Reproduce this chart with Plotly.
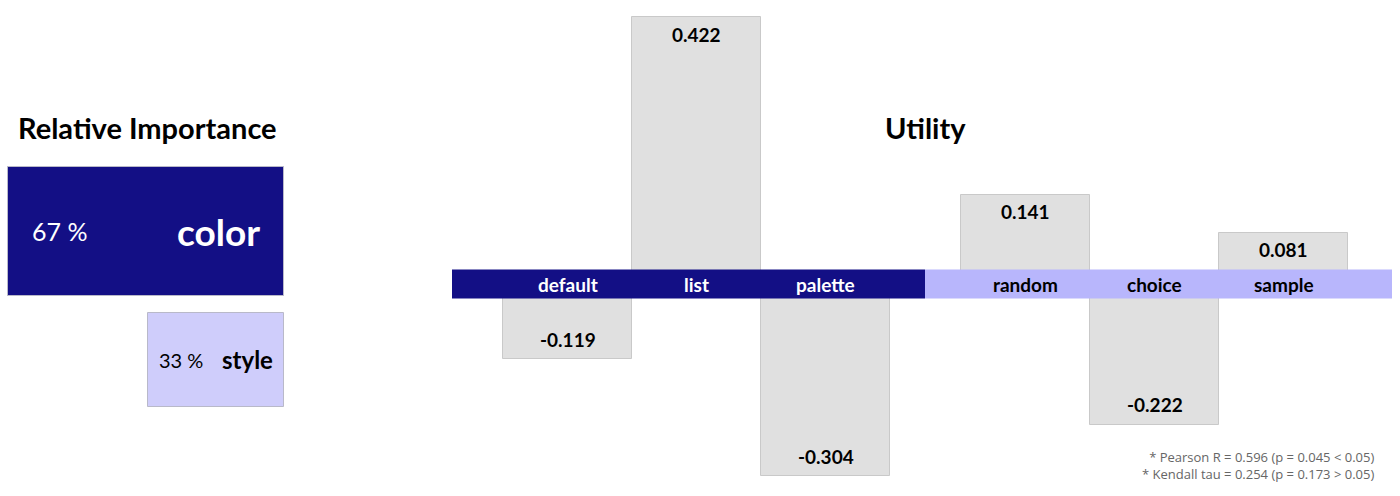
import plotly.graph_objects as go

# Relative importance of the two attributes (percent).
importance_names = ["color", "style"]
importance_pct = [67, 33]

# Utility of each level, split into the two attribute groups.
color_levels = ["default", "list", "palette"]
color_utility = [-0.119, 0.422, -0.304]
style_levels = ["random", "choice", "sample"]
style_utility = [0.141, -0.222, 0.081]

footnotes = ["* Pearson R = 0.596 (p = 0.045 < 0.05)",
             "* Kendall tau = 0.254 (p = 0.173 > 0.05)"]

DARK = "#130f85"
LIGHT_BAND = "#b8b6fc"
LIGHT_BOX = "#cfcdfb"
GRAY = "#e0e0e0"
FONT = "Lato"

fig = go.Figure()

# Left panel: relative importance as right-aligned horizontal bars.
fig.add_trace(go.Bar(
    x=importance_pct, y=importance_names, orientation="h",
    width=[1.0, 0.73],
    marker=dict(color=[DARK, LIGHT_BOX], line=dict(color="#b9b9c9", width=1)),
    xaxis="x", yaxis="y", hoverinfo="skip", showlegend=False))

# Utility panels.
for levels, values, xa, ya in [(color_levels, color_utility, "x2", "y2"),
                               (style_levels, style_utility, "x3", "y3")]:
    fig.add_trace(go.Bar(
        x=levels, y=values, width=1,
        marker=dict(color=GRAY, line=dict(color="#c9c9c9", width=1)),
        xaxis=xa, yaxis=ya, hoverinfo="skip", showlegend=False))

annotations = []

# Importance labels.
pct_shift = [22, 9]
pct_size = [25, 20]
pct_color = ["white", "black"]
name_shift = [-22, -9]
name_size = [37, 24]
for i, (name, pct) in enumerate(zip(importance_names, importance_pct)):
    annotations.append(dict(
        x=pct, y=name, xref="x", yref="y", xanchor="left", xshift=pct_shift[i],
        text=f"{pct} %", showarrow=False,
        font=dict(family=FONT, size=pct_size[i], color=pct_color[i])))
    annotations.append(dict(
        x=0, y=name, xref="x", yref="y", xanchor="right", xshift=name_shift[i],
        text=name, showarrow=False,
        font=dict(family=FONT, size=name_size[i], color=pct_color[i],
                  weight="bold")))

# Level names on the band and values at the bar ends.
for levels, values, xa, ya, txt_color in [
        (color_levels, color_utility, "x2", "y2", "white"),
        (style_levels, style_utility, "x3", "y3", "black")]:
    for lvl, val in zip(levels, values):
        annotations.append(dict(
            x=lvl, y=0, xref=xa, yref=ya, text=lvl, showarrow=False,
            font=dict(family=FONT, size=19, color=txt_color, weight="bold")))
        annotations.append(dict(
            x=lvl, y=val, xref=xa, yref=ya, text=f"{val:.3f}",
            yshift=-17 if val > 0 else 20, showarrow=False,
            font=dict(family=FONT, size=19, color="black", weight="bold")))

# Panel titles.
for title, xpos in [("Relative Importance", 147 / 1400), ("Utility", 925 / 1400)]:
    annotations.append(dict(
        x=xpos, y=1 - 127 / 496, xref="paper", yref="paper", text=title,
        xanchor="center", yanchor="middle", showarrow=False,
        font=dict(family=FONT, size=29, color="black", weight="bold")))

# Correlation notes.
annotations.append(dict(
    x=1376 / 1400, y=1 - 465.5 / 496, xref="paper", yref="paper",
    xanchor="right", yanchor="middle", align="right",
    text="<br>".join(footnotes), showarrow=False,
    font=dict(family="Open Sans", size=13, color="#666666")))

band = 0.023
shapes = [
    dict(type="rect", xref="x2 domain", yref="y2", x0=0, x1=1, y0=-band,
         y1=band, fillcolor=DARK, line=dict(width=0), layer="above"),
    dict(type="rect", xref="x3 domain", yref="y3", x0=0, x1=1, y0=-band,
         y1=band, fillcolor=LIGHT_BAND, line=dict(width=0), layer="above"),
]

hidden = dict(visible=False, fixedrange=True)
util_range = [-0.335, 0.449]
fig.update_layout(
    width=1400, height=496,
    margin=dict(l=0, r=0, t=0, b=0),
    paper_bgcolor="white", plot_bgcolor="white",
    xaxis=dict(domain=[0, 284 / 1400], range=[68.93, 0], anchor="y", **hidden),
    yaxis=dict(domain=[0, 1], range=[2.058, -1.80], type="category",
               anchor="x", **hidden),
    xaxis2=dict(domain=[452 / 1400, 925 / 1400], range=[-0.895, 2.77],
                anchor="y2", **hidden),
    yaxis2=dict(domain=[0, 1], range=util_range, anchor="x2", **hidden),
    xaxis3=dict(domain=[925 / 1400, 1392 / 1400], range=[-0.78, 2.84],
                anchor="y3", **hidden),
    yaxis3=dict(domain=[0, 1], range=util_range, anchor="x3", **hidden),
    annotations=annotations, shapes=shapes,
    bargap=0,
)

# Drop the page's default body margin so the figure fills the window.
fig.write_html("out.html", config={"displayModeBar": False},
               post_script="document.body.style.margin = '0';")
